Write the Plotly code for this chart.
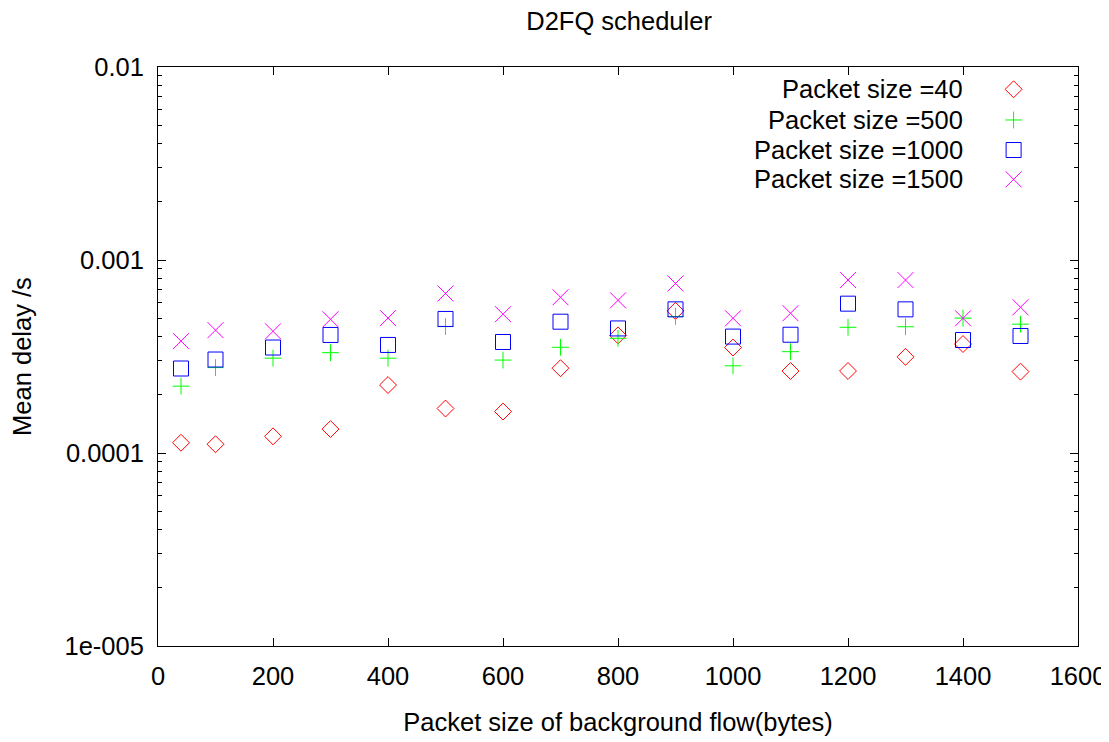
import plotly.graph_objects as go

# ---- data ----
bg_sizes = [40, 100, 200, 300, 400, 500, 600, 700, 800, 900, 1000, 1100, 1200, 1300, 1400, 1500]
delay_40 = [1.13e-4, 1.11e-4, 1.22e-4, 1.33e-4, 2.25e-4, 1.70e-4, 1.64e-4, 2.75e-4,
            4.07e-4, 5.45e-4, 3.52e-4, 2.66e-4, 2.66e-4, 3.15e-4, 3.67e-4, 2.64e-4]
delay_500 = [2.22e-4, 2.77e-4, 3.10e-4, 3.31e-4, 3.10e-4, 4.52e-4, 3.03e-4, 3.53e-4,
             3.93e-4, 5.10e-4, 2.83e-4, 3.35e-4, 4.48e-4, 4.51e-4, 5.00e-4, 4.65e-4]
delay_1000 = [2.74e-4, 3.05e-4, 3.52e-4, 4.09e-4, 3.63e-4, 4.95e-4, 3.76e-4, 4.79e-4,
              4.42e-4, 5.55e-4, 4.01e-4, 4.10e-4, 5.94e-4, 5.55e-4, 3.85e-4, 4.04e-4]
delay_1500 = [3.80e-4, 4.33e-4, 4.27e-4, 4.93e-4, 5.00e-4, 6.71e-4, 5.24e-4, 6.41e-4,
              6.18e-4, 7.56e-4, 4.99e-4, 5.30e-4, 7.87e-4, 7.87e-4, 4.99e-4, 5.69e-4]
series_names = ["Packet size =40", "Packet size =500", "Packet size =1000", "Packet size =1500"]
y_tickvals = [1e-5, 1e-4, 1e-3, 1e-2]
y_ticktext = ["1e-005", "0.0001", "0.001", "0.01"]
x_tickvals = [0, 200, 400, 600, 800, 1000, 1200, 1400, 1600]

# ---- styles ----
FONT = "Liberation Sans, Arial, sans-serif"
FS = 25.5
styles = [
    dict(symbol="diamond-open", color="#ff0000", size=13),
    dict(symbol="cross-thin-open", color="#00ff00", size=12),
    dict(symbol="square-open", color="#0000ff", size=15),
    dict(symbol="x-thin-open", color="#ff00ff", size=16),
]
all_series = [delay_40, delay_500, delay_1000, delay_1500]

fig = go.Figure()
for name, ys, st in zip(series_names, all_series, styles):
    fig.add_trace(go.Scatter(
        x=bg_sizes, y=ys, mode="markers", name=name, showlegend=False,
        marker=dict(symbol=st["symbol"], size=st["size"], color=st["color"],
                    line=dict(color=st["color"], width=1)),
        cliponaxis=False,
    ))

# custom legend (text right-aligned, marker to the right), on an overlay axis pair
legend_rows = [0.9615, 0.9085, 0.8566, 0.806]
for name, st, ry in zip(series_names, styles, legend_rows):
    fig.add_trace(go.Scatter(
        x=[0.930], y=[ry], xaxis="x2", yaxis="y2", mode="markers", showlegend=False,
        hoverinfo="skip",
        marker=dict(symbol=st["symbol"], size=st["size"], color=st["color"],
                    line=dict(color=st["color"], width=1)),
    ))
    fig.add_annotation(x=0.877, y=ry, xref="x2", yref="y2", text=name, showarrow=False,
                       xanchor="right", yanchor="middle",
                       font=dict(family=FONT, size=FS, color="black"))

axis_common = dict(
    showline=True, linecolor="black", linewidth=1, mirror="ticks",
    ticks="inside", tickcolor="black", ticklen=8, tickwidth=1,
    showgrid=False, zeroline=False,
    tickfont=dict(family=FONT, size=FS, color="black"),
)

fig.update_layout(
    width=1109, height=742,
    margin=dict(l=150, r=39, t=59, b=104),
    paper_bgcolor="white", plot_bgcolor="white",
    title=dict(text="D2FQ scheduler", x=0.551, xanchor="center", y=0.9825, yanchor="middle",
               font=dict(family=FONT, size=FS, color="black")),
    xaxis=dict(range=[0, 1600], tickmode="array", tickvals=x_tickvals,
               ticklabelstandoff=7,
               title=dict(text="Packet size of background flow(bytes)", standoff=24,
                          font=dict(family=FONT, size=FS, color="black")),
               **axis_common),
    yaxis=dict(type="log", range=[-5, -2], tickmode="array", tickvals=y_tickvals,
               ticktext=y_ticktext, ticklabelstandoff=8,
               minor=dict(ticks="inside", ticklen=4, tickcolor="black", dtick="D1", showgrid=False),
               title=dict(text="Mean delay /s", standoff=27,
                          font=dict(family=FONT, size=FS, color="black")),
               **axis_common),
    xaxis2=dict(range=[0, 1], overlaying="x", visible=False, fixedrange=True),
    yaxis2=dict(range=[0, 1], overlaying="y", visible=False, fixedrange=True),
    showlegend=False,
)

fig.write_html("out.html")
